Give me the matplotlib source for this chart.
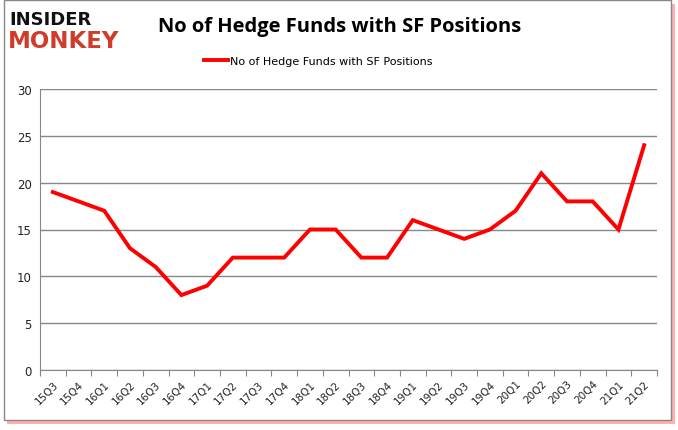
import numpy as np
from matplotlib import pyplot as plt
from matplotlib.patches import Rectangle

quarters = ["15Q3", "15Q4", "16Q1", "16Q2", "16Q3", "16Q4", "17Q1", "17Q2",
            "17Q3", "17Q4", "18Q1", "18Q2", "18Q3", "18Q4", "19Q1", "19Q2",
            "19Q3", "19Q4", "20Q1", "20Q2", "20Q3", "20Q4", "21Q1", "21Q2"]
funds = [19, 18, 17, 13, 11, 8, 9, 12, 12, 12, 15, 15, 12, 12, 16, 15,
         14, 15, 17, 21, 18, 18, 15, 24]
y_ticks = [0, 5, 10, 15, 20, 25, 30]

W, H = 678, 431
fig = plt.figure(figsize=(W / 100, H / 100), dpi=100)

# frame with red shadow
fig.patches.append(Rectangle((7 / W, 1 - 425 / H), 668 / W, 420 / H, transform=fig.transFigure,
                             facecolor="#ff6060", edgecolor="none", alpha=0.5, zorder=0))
fig.patches.append(Rectangle((4 / W, 1 - 421 / H), 667 / W, 420 / H, transform=fig.transFigure,
                             facecolor="white", edgecolor="#888888", linewidth=1, zorder=1))

ax = fig.add_axes([40 / W, 1 - 371 / H, 617 / W, 281 / H])
ax.set_zorder(2)
ax.patch.set_alpha(0)
x = np.arange(len(quarters))
ax.plot(x, funds, color="#ff0000", linewidth=2.8, label="No of Hedge Funds with SF Positions",
        solid_joinstyle="miter")
ax.set_xlim(-0.5, len(quarters) - 0.5)
ax.set_ylim(0, 30)
ax.set_yticks(y_ticks)
ax.grid(axis="y", color="#878787", linewidth=1)
ax.set_axisbelow(True)
ax.set_xticks(np.arange(len(quarters) + 1) - 0.5, minor=False)
ax.set_xticklabels([])
ax.set_xticks(x, minor=True)
ax.set_xticklabels(quarters, minor=True, rotation=45, ha="right", va="top",
                   rotation_mode="anchor", fontsize=7.5, color="#222222")
ax.tick_params(axis="x", which="major", length=4, color="#878787")
ax.tick_params(axis="x", which="minor", length=0, pad=6)
ax.tick_params(axis="y", length=0, labelsize=8.5, pad=6, labelcolor="#222222")
for s in ["top", "right"]:
    ax.spines[s].set_visible(False)
ax.spines["left"].set_color("#878787")
ax.spines["bottom"].set_color("#878787")

fig.text(340 / W, 1 - 27 / H, "No of Hedge Funds with SF Positions", ha="center", va="center",
         fontsize=14.5, fontweight="bold", family="Open Sans")
ax.legend(loc="center", bbox_to_anchor=(318 / W, 1 - 62 / H), bbox_transform=fig.transFigure,
          frameon=False, fontsize=8, handlelength=2.2, handletextpad=0.1)

fig.text(9 / W, 1 - 20 / H, "INSIDER", ha="left", va="center", fontsize=13,
         fontweight="heavy", family="DejaVu Sans", color="#111111")
fig.text(8 / W, 1 - 42 / H, "MONKEY", ha="left", va="center", fontsize=16.5,
         fontweight="heavy", family="DejaVu Sans", color="#d13b2a")

fig.savefig("out.png", dpi=100)
